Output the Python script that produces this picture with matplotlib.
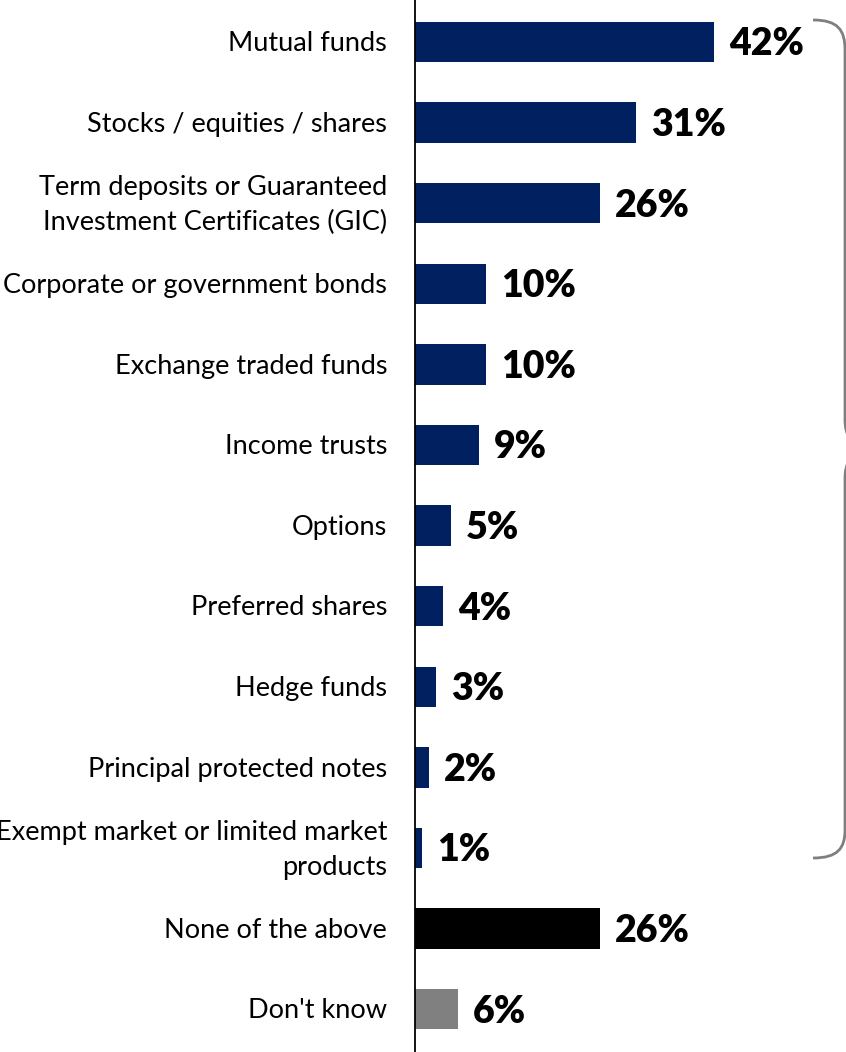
"""Investment products held - horizontal bar chart."""
import matplotlib
matplotlib.use("Agg")
from matplotlib import pyplot as plt
from matplotlib.path import Path
from matplotlib.patches import PathPatch

categories = [
    "Mutual funds",
    "Stocks / equities / shares",
    "Term deposits or Guaranteed\nInvestment Certificates (GIC)",
    "Corporate or government bonds",
    "Exchange traded funds",
    "Income trusts",
    "Options",
    "Preferred shares",
    "Hedge funds",
    "Principal protected notes",
    "Exempt market or limited market\nproducts",
    "None of the above",
    "Don't know",
]
values = [42, 31, 26, 10, 10, 9, 5, 4, 3, 2, 1, 26, 6]
labels = ["42%", "31%", "26%", "10%", "10%", "9%", "5%", "4%", "3%", "2%", "1%", "26%", "6%"]

NAVY = "#002060"
colors = [NAVY] * 11 + ["#000000", "#808080"]

W, H = 846, 1052
fig = plt.figure(figsize=(W / 100, H / 100), dpi=100)
plt.rcParams["font.family"] = ["Lato", "DejaVu Sans"]

left = 415 / W
ax = fig.add_axes([left, 0, 1 - left, 1])
pitch = 80.6
first = 42
ax.set_ylim((H - first) / pitch, -first / pitch)
ax.set_xlim(0, (W - 415) / 7.12)

ypos = list(range(len(values)))
ax.barh(ypos, values, height=0.5, color=colors)

for y, v, lab, cat in zip(ypos, values, labels, categories):
    ax.text(v + 2.1, y + 0.03, lab, va="center", ha="left",
            fontsize=27, fontweight="heavy", color="black")
    ax.text(-28 / 7.12, y + 0.02, cat, va="center", ha="right", fontsize=19.5,
            color="black", linespacing=1.5)

for side in ("top", "right", "bottom"):
    ax.spines[side].set_visible(False)
ax.spines["left"].set_color("#000000")
ax.spines["left"].set_linewidth(1.3)
ax.set_xticks([])
ax.set_yticks([])

# curly brace grouping the product rows
over = fig.add_axes([0, 0, 1, 1], facecolor="none")
over.set_xlim(0, W)
over.set_ylim(H, 0)
over.axis("off")
verts = [
    (813, 20), (838, 20), (845, 30), (845, 50),
    (845, 420), (845, 440), (860, 449),
    (845, 458), (845, 478),
    (845, 830), (845, 848), (838, 858), (813, 858),
]
codes = [
    Path.MOVETO, Path.CURVE4, Path.CURVE4, Path.CURVE4,
    Path.LINETO, Path.CURVE3, Path.CURVE3,
    Path.CURVE3, Path.CURVE3,
    Path.LINETO, Path.CURVE4, Path.CURVE4, Path.CURVE4,
]
over.add_patch(PathPatch(Path(verts, codes), fill=False, edgecolor="#7f7f7f",
                         linewidth=2, clip_on=False))

fig.savefig("out.png", dpi=100)
